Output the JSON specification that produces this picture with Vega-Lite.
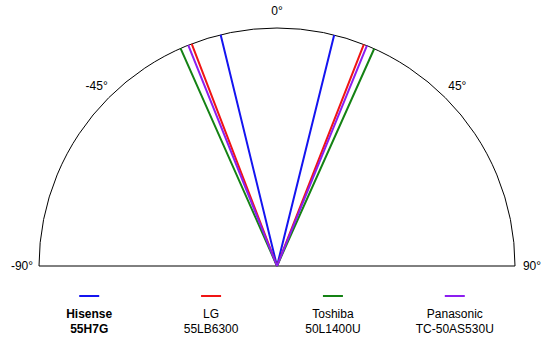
{
  "$schema": "https://vega.github.io/schema/vega-lite/v6.json",
  "autosize": {"type": "pad"},
  "padding": {"left": 10, "top": 5, "right": 5, "bottom": 5},
  "background": "white",
  "config": {"view": {"stroke": null}, "font": "Liberation Sans", "text": {"font": "Liberation Sans", "fontSize": 12, "color": "#000000"}},
  "datasets": {
    "angles": [
      {"brand": "Hisense", "side": "left", "angle": -13.7},
      {"brand": "Hisense", "side": "right", "angle": 13.9},
      {"brand": "LG", "side": "left", "angle": -21.0},
      {"brand": "LG", "side": "right", "angle": 21.4},
      {"brand": "Toshiba", "side": "left", "angle": -23.9},
      {"brand": "Toshiba", "side": "right", "angle": 24.1},
      {"brand": "Panasonic", "side": "left", "angle": -21.9},
      {"brand": "Panasonic", "side": "right", "angle": 22.2}
    ],
    "degrees": [
      {"angle": -90, "label": "-90°"},
      {"angle": -45, "label": "-45°"},
      {"angle": 0, "label": "0°"},
      {"angle": 45, "label": "45°"},
      {"angle": 90, "label": "90°"}
    ],
    "brands": [
      {"brand": "Hisense", "model": "55H7G"},
      {"brand": "LG", "model": "55LB6300"},
      {"brand": "Toshiba", "model": "50L1400U"},
      {"brand": "Panasonic", "model": "TC-50AS530U"}
    ]
  },
  "spacing": 15,
  "vconcat": [
    {
      "width": 476,
      "height": 238,
      "layer": [
        {
          "data": {"values": [{"from": -90, "to": 90}]},
          "mark": {"type": "arc", "radius": 238, "filled": false, "fill": null, "stroke": "#000000", "strokeWidth": 1},
          "encoding": {
            "x": {"datum": 0, "type": "quantitative", "scale": {"domain": [-1, 1]}, "axis": null},
            "y": {"datum": 0, "type": "quantitative", "scale": {"domain": [0, 1]}, "axis": null},
            "theta": {"field": "from", "type": "quantitative", "stack": null, "scale": {"domain": [-90, 90], "range": [-1.5707963, 1.5707963]}},
            "theta2": {"field": "to"}
          }
        },
        {
          "data": {"name": "angles"},
          "mark": {"type": "arc", "radius": 238, "filled": false, "fill": null, "strokeWidth": 2},
          "encoding": {
            "x": {"datum": 0, "type": "quantitative"},
            "y": {"datum": 0, "type": "quantitative"},
            "theta": {"field": "angle", "type": "quantitative", "stack": null},
            "theta2": {"field": "angle"},
            "stroke": {"field": "brand", "type": "nominal", "scale": {"domain": ["Hisense", "LG", "Toshiba", "Panasonic"], "range": ["#1414f0", "#f01414", "#148214", "#8c1ef0"]}, "legend": null}
          }
        },
        {
          "data": {"name": "degrees"},
          "mark": {"type": "text", "radius": 255, "align": "center", "baseline": "middle", "fontSize": 12},
          "encoding": {
            "x": {"datum": 0, "type": "quantitative"},
            "y": {"datum": 0, "type": "quantitative"},
            "theta": {"field": "angle", "type": "quantitative", "stack": null},
            "text": {"field": "label", "type": "nominal"}
          }
        }
      ]
    },
    {
      "width": 466,
      "height": 18,
      "data": {"name": "brands"},
      "encoding": {
        "x": {"field": "brand", "type": "nominal", "scale": {"type": "point", "domain": ["Hisense", "LG", "Toshiba", "Panasonic"], "padding": 0.412}, "axis": null}
      },
      "layer": [
        {
          "mark": {"type": "tick", "orient": "horizontal", "size": 20, "thickness": 2, "opacity": 1},
          "encoding": {
            "color": {"field": "brand", "type": "nominal", "scale": {"domain": ["Hisense", "LG", "Toshiba", "Panasonic"], "range": ["#1414f0", "#f01414", "#148214", "#8c1ef0"]}, "legend": null}
          }
        },
        {
          "transform": [{"filter": "datum.brand !== 'Hisense'"}],
          "mark": {"type": "text", "align": "center", "baseline": "middle", "dy": 18, "fontSize": 12},
          "encoding": {"text": {"field": "brand", "type": "nominal"}}
        },
        {
          "transform": [{"filter": "datum.brand !== 'Hisense'"}],
          "mark": {"type": "text", "align": "center", "baseline": "middle", "dy": 33, "fontSize": 12},
          "encoding": {"text": {"field": "model", "type": "nominal"}}
        },
        {
          "transform": [{"filter": "datum.brand === 'Hisense'"}],
          "mark": {"type": "text", "align": "center", "baseline": "middle", "dy": 18, "fontSize": 12, "fontWeight": "bold"},
          "encoding": {"text": {"field": "brand", "type": "nominal"}}
        },
        {
          "transform": [{"filter": "datum.brand === 'Hisense'"}],
          "mark": {"type": "text", "align": "center", "baseline": "middle", "dy": 33, "fontSize": 12, "fontWeight": "bold"},
          "encoding": {"text": {"field": "model", "type": "nominal"}}
        }
      ]
    }
  ]
}
